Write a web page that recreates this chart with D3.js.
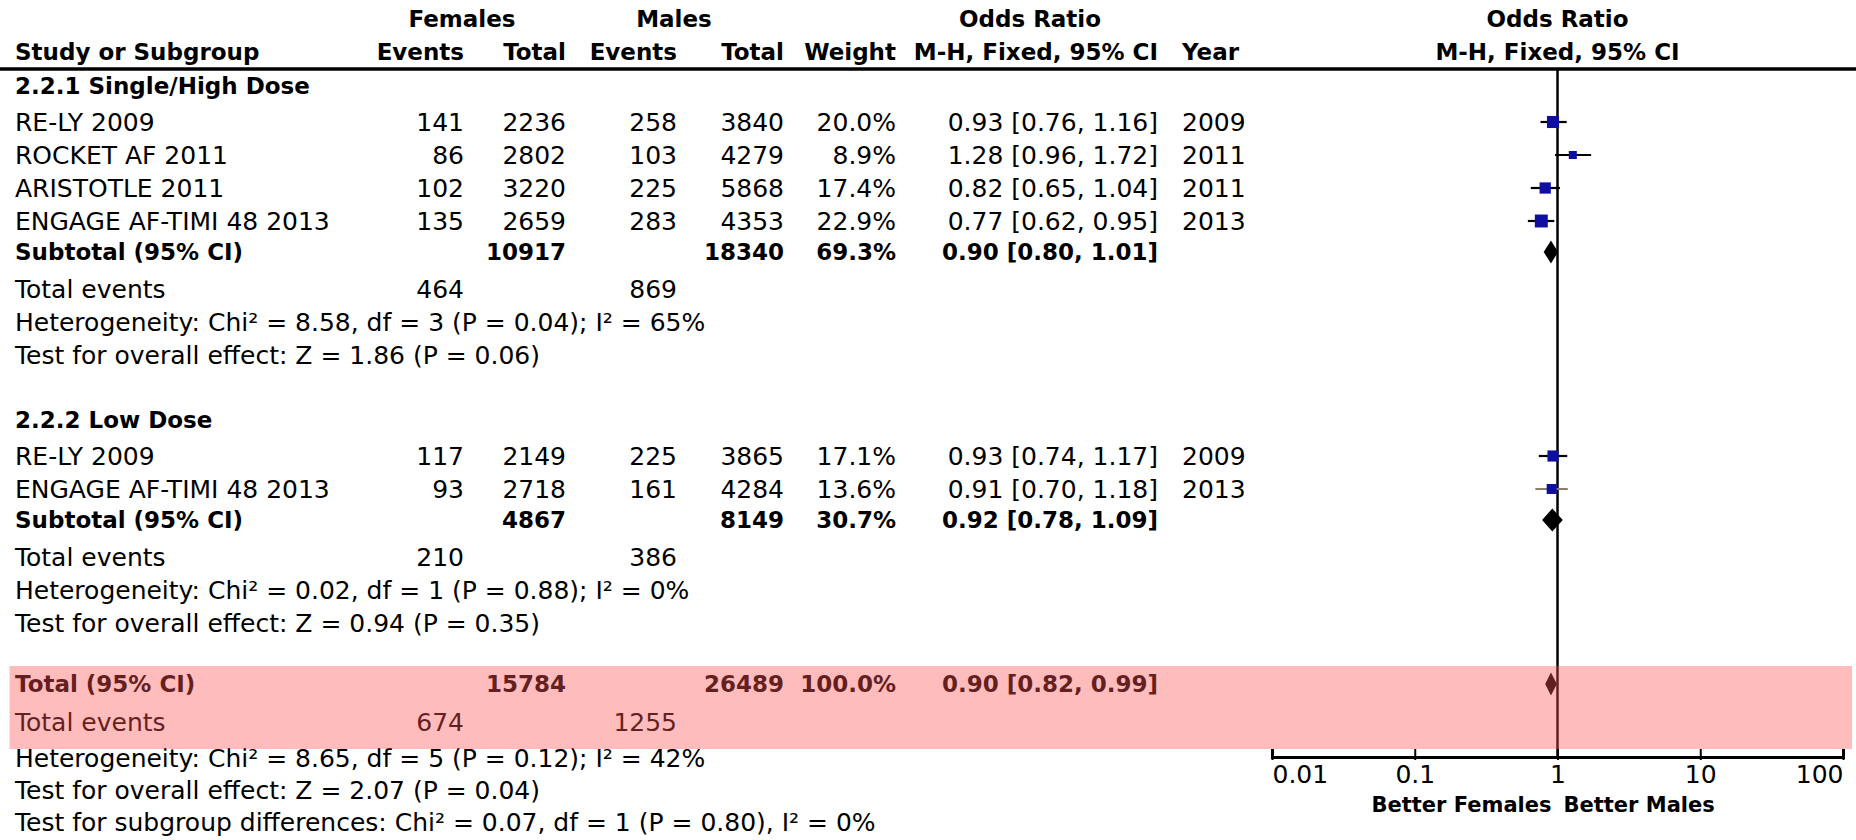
<!DOCTYPE html>
<html>
<head>
<meta charset="utf-8">
<script src="https://cdn.jsdelivr.net/npm/d3@7"></script>
<style>
  html, body { margin: 0; padding: 0; background: #fff; }
  svg { display: block; }
  text { font-family: "DejaVu Sans", Verdana, sans-serif; font-size: 25px; fill: #000; }
  .b { font-weight: bold; font-size: 23px; }
</style>
</head>
<body>
<svg id="chart" width="1856" height="840"></svg>
<script>
// ---- Study-level data ----
const studyNames   = ["RE-LY 2009", "ROCKET AF 2011", "ARISTOTLE 2011", "ENGAGE AF-TIMI 48 2013",
                      "RE-LY 2009", "ENGAGE AF-TIMI 48 2013"];
const studyGroup   = [0, 0, 0, 0, 1, 1];
const femaleEvents = [141, 86, 102, 135, 117, 93];
const femaleTotals = [2236, 2802, 3220, 2659, 2149, 2718];
const maleEvents   = [258, 103, 225, 283, 225, 161];
const maleTotals   = [3840, 4279, 5868, 4353, 3865, 4284];
const weights      = [20.0, 8.9, 17.4, 22.9, 17.1, 13.6];
const oddsRatios   = [0.93, 1.28, 0.82, 0.77, 0.93, 0.91];
const ciLower      = [0.76, 0.96, 0.65, 0.62, 0.74, 0.70];
const ciUpper      = [1.16, 1.72, 1.04, 0.95, 1.17, 1.18];
const years        = [2009, 2011, 2011, 2013, 2009, 2013];

// ---- Subgroup summaries ----
const subgroupNames    = ["2.2.1 Single/High Dose", "2.2.2 Low Dose"];
const subFemaleTotals  = [10917, 4867];
const subMaleTotals    = [18340, 8149];
const subWeights       = [69.3, 30.7];
const subOR            = [0.90, 0.92];
const subLower         = [0.80, 0.78];
const subUpper         = [1.01, 1.09];
const subFemaleEvents  = [464, 210];
const subMaleEvents    = [869, 386];
const subHeterogeneity = ["Heterogeneity: Chi² = 8.58, df = 3 (P = 0.04); I² = 65%",
                          "Heterogeneity: Chi² = 0.02, df = 1 (P = 0.88); I² = 0%"];
const subOverallTest   = ["Test for overall effect: Z = 1.86 (P = 0.06)",
                          "Test for overall effect: Z = 0.94 (P = 0.35)"];

// ---- Pooled total ----
const totalFemaleTotal  = 15784;
const totalMaleTotal    = 26489;
const totalWeight       = 100.0;
const totalOR           = 0.90;
const totalLower        = 0.82;
const totalUpper        = 0.99;
const totalFemaleEvents = 674;
const totalMaleEvents   = 1255;
const totalNotes = ["Heterogeneity: Chi² = 8.65, df = 5 (P = 0.12); I² = 42%",
                    "Test for overall effect: Z = 2.07 (P = 0.04)",
                    "Test for subgroup differences: Chi² = 0.07, df = 1 (P = 0.80), I² = 0%"];

// ---- Axis ----
const axisTicks      = [0.01, 0.1, 1, 10, 100];
const axisTickLabels = ["0.01", "0.1", "1", "10", "100"];
const favourLeft  = "Better Females";
const favourRight = "Better Males";

// ---- Layout ----
const svg = d3.select("#chart");
const col = { name: 15, fEv: 464, fTot: 566, mEv: 677, mTot: 784, wt: 896, orText: 1158, year: 1182 };
const x = d3.scaleLog().domain([0.01, 100]).range([1272, 1843]);
const headerLineY = 69;
const axisY = 757;

const fmtW = d => d.toFixed(1) + "%";
const fmtOR = (o, l, h) => `${o.toFixed(2)} [${l.toFixed(2)}, ${h.toFixed(2)}]`;

function txt(xp, yp, s, anchor = "start", bold = false) {
  return svg.append("text")
    .attr("x", xp).attr("y", yp).attr("dy", "0.36em")
    .attr("text-anchor", anchor)
    .attr("class", bold ? "b" : null)
    .text(s);
}

// Column headers
txt(462, 19, "Females", "middle", true);
txt(674, 19, "Males", "middle", true);
txt(1030, 19, "Odds Ratio", "middle", true);
txt(x(1), 19, "Odds Ratio", "middle", true);
txt(col.name, 52, "Study or Subgroup", "start", true);
txt(col.fEv, 52, "Events", "end", true);
txt(col.fTot, 52, "Total", "end", true);
txt(col.mEv, 52, "Events", "end", true);
txt(col.mTot, 52, "Total", "end", true);
txt(col.wt, 52, "Weight", "end", true);
txt(col.orText, 52, "M-H, Fixed, 95% CI", "end", true);
txt(col.year, 52, "Year", "start", true);
txt(x(1), 52, "M-H, Fixed, 95% CI", "middle", true);

svg.append("line").attr("x1", 0).attr("x2", 1856)
  .attr("y1", headerLineY).attr("y2", headerLineY)
  .attr("stroke", "#000").attr("stroke-width", 3.5);

// Line of no effect
svg.append("line").attr("x1", x(1)).attr("x2", x(1))
  .attr("y1", headerLineY).attr("y2", axisY)
  .attr("stroke", "#000").attr("stroke-width", 2.5);

const plot = svg.append("g");

function diamond(yc, o, l, h) {
  const hh = 11.5;
  plot.append("path")
    .attr("d", `M${x(l)},${yc} L${x(o)},${yc - hh} L${x(h)},${yc} L${x(o)},${yc + hh} Z`)
    .attr("fill", "#000");
}

// Rows, group by group
let y = 86;
const groupStarts = [86, 420];
subgroupNames.forEach((g, gi) => {
  y = groupStarts[gi];
  txt(col.name, y, g, "start", true);
  y += 36;
  studyNames.forEach((n, i) => {
    if (studyGroup[i] !== gi) return;
    txt(col.name, y, n);
    txt(col.fEv, y, femaleEvents[i], "end");
    txt(col.fTot, y, femaleTotals[i], "end");
    txt(col.mEv, y, maleEvents[i], "end");
    txt(col.mTot, y, maleTotals[i], "end");
    txt(col.wt, y, fmtW(weights[i]), "end");
    txt(col.orText, y, fmtOR(oddsRatios[i], ciLower[i], ciUpper[i]), "end");
    txt(col.year, y, years[i]);
    plot.append("line")
      .attr("x1", x(ciLower[i])).attr("x2", x(ciUpper[i]))
      .attr("y1", y).attr("y2", y)
      .attr("stroke", i === 5 ? "#8c7d6e" : "#000").attr("stroke-width", 2.2);
    const s = 2.7 * Math.sqrt(weights[i]);
    plot.append("rect")
      .attr("x", x(oddsRatios[i]) - s / 2).attr("y", y - s / 2)
      .attr("width", s).attr("height", s)
      .attr("fill", "#0e0ea2");
    y += 33;
  });
  y -= 2;
  txt(col.name, y, "Subtotal (95% CI)", "start", true);
  txt(col.fTot, y, subFemaleTotals[gi], "end", true);
  txt(col.mTot, y, subMaleTotals[gi], "end", true);
  txt(col.wt, y, fmtW(subWeights[gi]), "end", true);
  txt(col.orText, y, fmtOR(subOR[gi], subLower[gi], subUpper[gi]), "end", true);
  diamond(y, subOR[gi], subLower[gi], subUpper[gi]);
  y += 37;
  txt(col.name, y, "Total events");
  txt(col.fEv, y, subFemaleEvents[gi], "end");
  txt(col.mEv, y, subMaleEvents[gi], "end");
  y += 33;
  txt(col.name, y, subHeterogeneity[gi]);
  y += 33;
  txt(col.name, y, subOverallTest[gi]);
});

// Pooled total
y = 684;
const bandTop = y - 18;
txt(col.name, y, "Total (95% CI)", "start", true);
txt(col.fTot, y, totalFemaleTotal, "end", true);
txt(col.mTot, y, totalMaleTotal, "end", true);
txt(col.wt, y, fmtW(totalWeight), "end", true);
txt(col.orText, y, fmtOR(totalOR, totalLower, totalUpper), "end", true);
diamond(y, totalOR, totalLower, totalUpper);
y += 38;
txt(col.name, y, "Total events");
txt(col.fEv, y, totalFemaleEvents, "end");
txt(col.mEv, y, totalMaleEvents, "end");
const bandBottom = y + 27;
y += 36;
totalNotes.forEach(t => { txt(col.name, y, t); y += 32; });

// Highlight band over the pooled rows
svg.append("rect")
  .attr("x", 9.5).attr("y", bandTop)
  .attr("width", 1852 - 9.5).attr("height", bandBottom - bandTop)
  .attr("fill", "rgb(255,83,83)").attr("fill-opacity", 0.39);

// Log axis
const axis = d3.axisBottom(x)
  .tickValues(axisTicks)
  .tickFormat((d, i) => axisTickLabels[i])
  .tickSizeInner(-8).tickSizeOuter(-8).tickPadding(8);
const ag = svg.append("g").attr("transform", `translate(0,${axisY})`).call(axis);
ag.select(".domain").attr("stroke", "#000").attr("stroke-width", 3);
ag.selectAll(".tick line").attr("stroke", "#000").attr("stroke-width", 2).attr("y2", -8).attr("y1", 3);
ag.selectAll(".tick text")
  .attr("font-size", 25).attr("font-family", "DejaVu Sans").attr("fill", "#000")
  .attr("text-anchor", (d, i) => i === 0 ? "start" : (i === axisTicks.length - 1 ? "end" : "middle"));

txt(x(1) - 6, 804, favourLeft, "end", true).style("font-size", "21px");
txt(x(1) + 6, 804, favourRight, "start", true).style("font-size", "21px");
</script>
</body>
</html>
